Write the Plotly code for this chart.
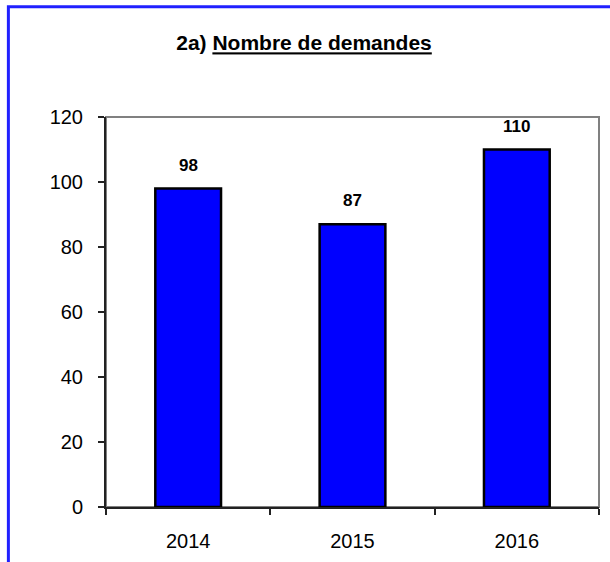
import plotly.graph_objects as go

years = ["2014", "2015", "2016"]
demandes = [98, 87, 110]
y_ticks = [0, 20, 40, 60, 80, 100, 120]
title_prefix = "2a) "
title_main = "Nombre de demandes"

FONT = "Liberation Sans, Arial, sans-serif"

fig = go.Figure()
fig.add_trace(go.Bar(
    x=years, y=demandes,
    marker=dict(color="#0000FF", line=dict(color="#000000", width=2.5)),
    width=0.4,
    hoverinfo="skip",
))

for i, v in enumerate(demandes):
    fig.add_annotation(x=i, y=v, text=f"<b>{v}</b>", showarrow=False,
                       xref="x", yref="y", yanchor="bottom", yshift=12,
                       font=dict(family=FONT, size=17, color="#000000"))

# outer blue frame
fig.add_shape(type="rect", xref="paper", yref="paper",
              x0=-0.198, x1=1.2, y0=-0.5, y1=1.283,
              line=dict(color="#2020FF", width=3), layer="below")
# plot area gray frame
fig.add_shape(type="rect", xref="paper", yref="paper",
              x0=0, x1=1, y0=0, y1=1,
              line=dict(color="#808080", width=2), layer="below")

fig.update_layout(
    width=610, height=562,
    margin=dict(l=106, r=11, t=117, b=55),
    paper_bgcolor="white", plot_bgcolor="white",
    showlegend=False,
    title=dict(text=f"<b>{title_prefix}<u>{title_main}</u></b>",
               x=304/610, y=1-43/562, xanchor="center", yanchor="middle",
               xref="container", yref="container",
               font=dict(family=FONT, size=21, color="#000000")),
    font=dict(family=FONT, color="#000000"),
)
fig.update_xaxes(
    type="category", tickson="boundaries", ticks="outside", ticklen=6,
    tickcolor="#222222", tickwidth=1.5,
    showline=True, linecolor="#222222", linewidth=2,
    showgrid=False, zeroline=False,
    tickfont=dict(family=FONT, size=20, color="#000000"),
    ticklabelstandoff=15,
    range=[-0.5, 2.5],
)
fig.update_yaxes(
    range=[0, 120], tickvals=y_ticks, ticks="outside", ticklen=6,
    tickcolor="#222222", tickwidth=1.5,
    showline=True, linecolor="#222222", linewidth=2,
    showgrid=False, zeroline=False,
    tickfont=dict(family=FONT, size=20, color="#000000"),
    ticklabelstandoff=11,
)

fig.write_html("out.html", config={"displayModeBar": False},
               post_script="document.body.style.margin='0';document.body.style.overflow='hidden';")
